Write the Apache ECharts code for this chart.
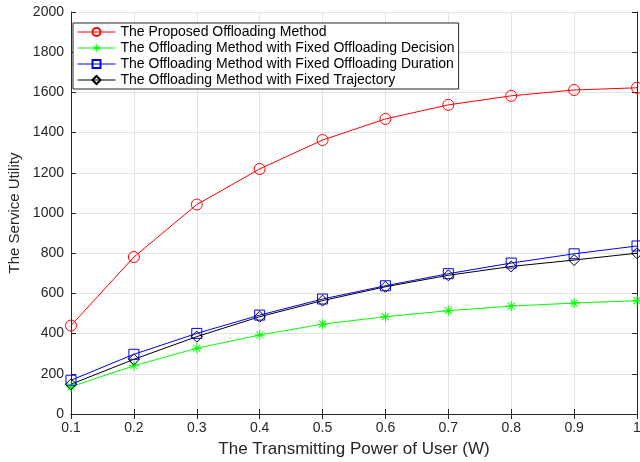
<!DOCTYPE html>
<html>
<head>
<meta charset="utf-8">
<script src="https://cdn.jsdelivr.net/npm/echarts@6/dist/echarts.min.js"></script>
<style>
  html, body { margin: 0; padding: 0; background: #fff; }
  #chart { width: 640px; height: 462px; }
</style>
</head>
<body>
<div id="chart"></div>
<script>
const powers = ['0.1', '0.2', '0.3', '0.4', '0.5', '0.6', '0.7', '0.8', '0.9', '1']
const proposed = [440, 781, 1042, 1219, 1363, 1468, 1538, 1583, 1612, 1623]
const fixedDecision = [136, 240, 327, 393, 447, 484, 514, 537, 552, 564]
const fixedDuration = [168, 297, 401, 492, 572, 638, 698, 751, 797, 836]
const fixedTrajectory = [148, 272, 385, 484, 564, 633, 690, 734, 766, 800]

const names = [
    'The Proposed Offloading Method',
    'The Offloading Method with Fixed Offloading Decision',
    'The Offloading Method with Fixed Offloading Duration',
    'The Offloading Method with Fixed Trajectory'
]

// matlab style asterisk, + and x overlaid
const asterisk = 'path://M9,0L11,0L11,20L9,20Z M0,9L20,9L20,11L0,11Z ' +
    'M2.3,3.7L3.7,2.3L17.7,16.3L16.3,17.7Z M16.3,2.3L17.7,3.7L3.7,17.7L2.3,16.3Z'

const ink = '#262626'
const font = 'Liberation Sans, Arial, Helvetica, sans-serif'

function makeSeries(name, data, color, symbol, size, hollow) {
    return {
        name: name,
        type: 'line',
        data: data,
        symbol: symbol,
        symbolSize: size,
        showSymbol: true,
        color: color,
        lineStyle: { color: color, width: 1 },
        itemStyle: hollow
            ? { color: 'rgba(255,255,255,0)', borderColor: color, borderWidth: 1 }
            : { color: color, borderWidth: 0 },
        emphasis: { disabled: true },
        z: 3
    }
}

const chart = echarts.init(document.getElementById('chart'))

const hiddenAxis = {
    axisLine: { show: true, lineStyle: { color: ink, width: 1 } },
    axisTick: { show: true, inside: true, length: 5, lineStyle: { color: ink } },
    axisLabel: { show: false },
    splitLine: { show: false }
}

chart.setOption({
    animation: false,
    backgroundColor: '#fff',
    textStyle: { fontFamily: font },
    grid: { left: 71, right: 3, top: 12, bottom: 48, outerBoundsMode: 'none' },
    legend: {
        data: names,
        orient: 'vertical',
        left: 73,
        top: 23,
        backgroundColor: '#fff',
        borderColor: ink,
        borderWidth: 1,
        borderRadius: 0,
        padding: [2, 4, 2, 4],
        itemGap: 2,
        itemWidth: 38,
        itemHeight: 10,
        lineStyle: { width: 1 },
        textStyle: { fontSize: 14, color: '#000', fontFamily: font },
        selectedMode: false
    },
    xAxis: [{
        type: 'category',
        data: powers,
        boundaryGap: false,
        name: 'The Transmitting Power of User (W)',
        nameLocation: 'middle',
        nameGap: 27,
        nameTextStyle: { fontSize: 17, color: ink, fontFamily: font },
        axisLine: { lineStyle: { color: ink, width: 1 } },
        axisTick: { inside: true, length: 5, alignWithLabel: true, lineStyle: { color: ink } },
        axisLabel: { fontSize: 14, color: ink, margin: 7, fontFamily: font },
        splitLine: { show: true, lineStyle: { color: '#e3e3e3', width: 1 } }
    }, Object.assign({
        type: 'category',
        data: powers,
        boundaryGap: false,
        position: 'top'
    }, hiddenAxis)],
    yAxis: [{
        type: 'value',
        min: 0,
        max: 2000,
        interval: 200,
        name: 'The Service Utility',
        nameLocation: 'middle',
        nameGap: 45,
        nameTextStyle: { fontSize: 15, color: ink, fontFamily: font },
        axisLine: { show: true, lineStyle: { color: ink, width: 1 } },
        axisTick: { show: true, inside: true, length: 5, lineStyle: { color: ink } },
        axisLabel: { fontSize: 14, color: ink, margin: 7, fontFamily: font, formatter: v => String(v) },
        splitLine: { show: true, lineStyle: { color: '#e3e3e3', width: 1 } }
    }, Object.assign({
        type: 'value',
        min: 0,
        max: 2000,
        interval: 200,
        position: 'right'
    }, hiddenAxis)],
    series: [
        makeSeries(names[0], proposed, '#ff0000', 'circle', 11, true),
        makeSeries(names[1], fixedDecision, '#00ff00', asterisk, 10, false),
        makeSeries(names[2], fixedDuration, '#0000ff', 'rect', 10, true),
        makeSeries(names[3], fixedTrajectory, '#000000', 'diamond', 11, true)
    ]
})
</script>
</body>
</html>
